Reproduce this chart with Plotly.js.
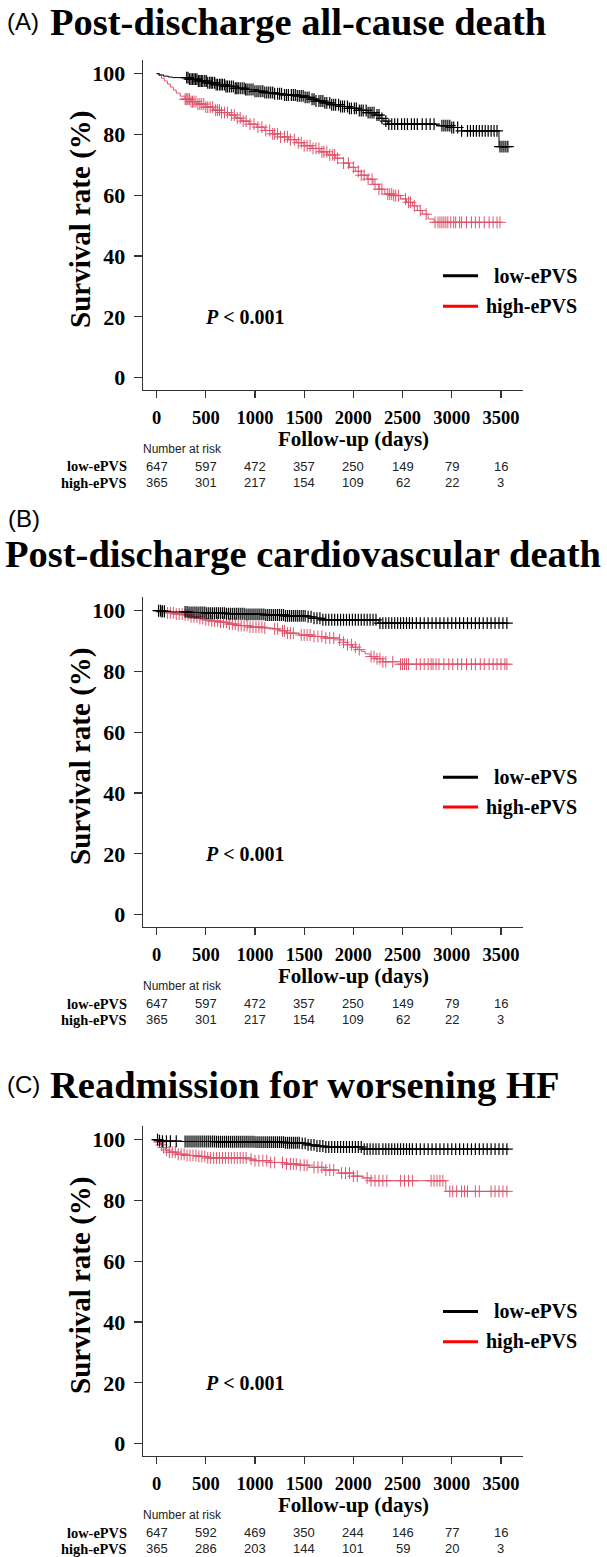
<!DOCTYPE html>
<html>
<head>
<meta charset="utf-8">
<script src="https://cdn.plot.ly/plotly-3.0.1.min.js"></script>
<style>html,body{margin:0;padding:0;background:#fff;}#chart{width:607px;height:1557px;}</style>
</head>
<body>
<div id="chart"></div>
<script>
// ---------------- DATA ----------------
const panelLetters = ["(A)", "(B)", "(C)"];
const panelTitles = ["Post-discharge all-cause death", "Post-discharge cardiovascular death", "Readmission for worsening HF"];
const groupNames = ["low-ePVS", "high-ePVS"];
const xTicks = [0, 500, 1000, 1500, 2000, 2500, 3000, 3500];
const yTicks = [0, 20, 40, 60, 80, 100];
const riskTimes = [0, 500, 1000, 1500, 2000, 2500, 3000, 3500];
const pText = "P < 0.001";

// Panel A
const lowA_t = [0, 30, 70, 120, 160, 330, 420, 510, 600, 700, 800, 900, 1000, 1100, 1200, 1300, 1420, 1500, 1560, 1620, 1700, 1780, 1860, 1950, 2050, 2150, 2220, 2270, 2310, 2350, 2850, 3000, 3100, 3480, 3570];
const lowA_s = [100, 99.6, 99.2, 98.9, 98.7, 98.2, 97.6, 97.0, 96.4, 95.8, 95.2, 94.8, 94.2, 93.8, 93.4, 93.0, 92.7, 92.2, 91.6, 91.0, 90.4, 89.8, 89.2, 88.6, 87.9, 87.2, 86.4, 85.3, 84.4, 83.4, 82.9, 82.3, 81.2, 76.0, 76.0];
const lowA_cens = [306,320,335,350,365,380,395,410,425,440,455,470,490,505,520,540,555,570,590,605,620,640,655,670,690,705,720,740,760,780,800,815,830,850,870,890,905,920,940,960,980,1000,1020,1040,1060,1080,1100,1120,1140,1160,1180,1200,1230,1250,1270,1300,1320,1340,1370,1390,1410,1430,1450,1470,1490,1510,1530,1550,1580,1600,1620,1650,1670,1690,1710,1730,1760,1780,1800,1820,1850,1870,1890,1910,1940,1960,1980,2010,2030,2060,2080,2100,2130,2150,2170,2190,2210,2240,2260,2290,2330,2360,2390,2420,2450,2490,2520,2550,2590,2620,2650,2700,2740,2780,2820,2900,2920,2940,2960,2980,3000,3020,3060,3100,3160,3190,3220,3250,3280,3310,3340,3370,3400,3430,3460,3490,3510,3530,3550,3570];
const highA_t = [0, 20, 50, 80, 110, 140, 170, 200, 240, 290, 350, 420, 500, 580, 660, 740, 800, 860, 940, 1020, 1100, 1180, 1260, 1340, 1420, 1500, 1580, 1660, 1740, 1820, 1900, 1960, 2020, 2080, 2140, 2200, 2260, 2320, 2400, 2480, 2540, 2600, 2650, 2700, 2760, 2820, 3500];
const highA_s = [100, 99.4, 98.5, 97.6, 96.6, 95.6, 94.6, 93.6, 92.6, 91.6, 90.8, 90.0, 89.0, 88.0, 87.2, 86.4, 85.4, 84.4, 83.4, 82.4, 81.3, 80.2, 79.2, 78.3, 77.3, 76.3, 75.4, 74.3, 73.3, 72.2, 70.6, 69.2, 67.9, 66.6, 65.3, 63.6, 62.0, 60.4, 59.9, 58.8, 57.7, 56.5, 55.0, 53.8, 52.2, 51.1, 51.1];
const highA_cens = [290,300,310,320,335,350,365,380,400,420,440,460,480,500,520,545,570,600,620,640,660,690,720,760,790,820,850,880,910,950,990,1030,1070,1110,1150,1180,1200,1230,1260,1300,1330,1360,1400,1440,1470,1500,1530,1560,1590,1620,1650,1680,1700,1730,1760,1790,1810,1840,1900,1950,2000,2050,2080,2110,2150,2190,2220,2260,2290,2350,2370,2390,2410,2430,2460,2530,2560,2580,2620,2680,2740,2830,2860,2880,2900,2920,2940,2960,2990,3020,3040,3080,3100,3150,3200,3240,3280,3330,3380,3420,3460,3490];
const riskLowA = [647, 597, 472, 357, 250, 149, 79, 16];
const riskHighA = [365, 301, 217, 154, 109, 62, 22, 3];

// Panel B
const lowB_t = [0, 60, 150, 330, 500, 700, 900, 1100, 1300, 1520, 1600, 1690, 2240, 2260, 3560];
const lowB_s = [100, 99.8, 99.6, 99.4, 99.2, 99.0, 98.8, 98.6, 98.3, 98.0, 97.5, 97.0, 97.0, 95.9, 95.9];
const lowB_cens = [20,40,60,80,290,310,330,350,370,390,410,430,450,470,490,510,530,550,570,590,610,630,650,670,690,710,730,750,770,790,810,830,850,870,890,910,930,950,970,990,1010,1030,1050,1070,1090,1110,1130,1150,1170,1190,1210,1230,1250,1270,1290,1310,1330,1350,1370,1390,1410,1430,1450,1470,1490,1510,1540,1570,1600,1630,1660,1690,1720,1750,1780,1810,1840,1870,1900,1930,1960,1990,2020,2050,2080,2110,2140,2170,2200,2230,2270,2300,2330,2360,2390,2420,2450,2480,2510,2540,2570,2600,2640,2680,2720,2760,2800,2840,2880,2920,2960,3000,3040,3080,3120,3160,3200,3240,3280,3320,3360,3400,3440,3480,3520,3560];
const highB_t = [0, 40, 100, 180, 270, 350, 420, 480, 560, 640, 720, 810, 950, 1100, 1190, 1250, 1320, 1450, 1590, 1700, 1860, 1900, 1940, 1990, 2040, 2080, 2120, 2170, 2220, 2300, 2480, 3560];
const highB_s = [100, 99.6, 99.3, 98.9, 98.6, 98.0, 97.4, 97.0, 96.6, 96.2, 95.6, 95.1, 94.6, 94.3, 94.0, 93.4, 92.6, 92.0, 91.5, 91.0, 90.4, 89.6, 88.8, 88.0, 87.2, 86.6, 85.8, 84.9, 84.2, 83.2, 82.4, 82.4];
const highB_cens = [20,50,80,110,140,170,200,230,260,290,320,350,380,410,440,470,500,530,560,590,620,650,680,710,740,770,800,830,860,890,920,950,980,1010,1040,1070,1100,1200,1230,1280,1300,1330,1360,1390,1470,1500,1530,1560,1600,1640,1680,1720,1760,1800,1860,1900,1940,1980,2020,2060,2180,2210,2240,2270,2300,2330,2400,2480,2500,2520,2540,2560,2640,2680,2720,2760,2790,2810,2840,2870,2920,2970,3010,3060,3100,3150,3200,3240,3290,3330,3380,3420,3460,3500,3540,3560];
const riskLowB = [647, 597, 472, 357, 250, 149, 79, 16];
const riskHighB = [365, 301, 217, 154, 109, 62, 22, 3];

// Panel C
const lowC_t = [0, 20, 60, 250, 600, 1000, 1300, 1460, 1540, 1620, 1700, 2090, 3560];
const lowC_s = [100, 99.7, 99.5, 99.4, 99.3, 99.2, 99.0, 98.8, 98.3, 97.9, 97.6, 96.9, 96.9];
const lowC_cens = [10,30,60,100,140,200,290,310,330,350,370,390,410,430,450,470,490,510,530,550,570,590,610,630,650,670,690,710,730,750,770,790,810,830,850,870,890,910,930,950,970,990,1010,1030,1050,1070,1090,1110,1130,1150,1170,1190,1210,1230,1250,1270,1290,1310,1330,1350,1370,1390,1410,1430,1450,1480,1510,1540,1570,1600,1630,1660,1690,1720,1750,1780,1810,1840,1870,1900,1930,1960,1990,2020,2050,2080,2110,2140,2170,2200,2230,2260,2300,2330,2360,2390,2420,2450,2480,2510,2540,2570,2600,2640,2680,2720,2760,2800,2840,2880,2920,2960,3000,3040,3080,3120,3160,3200,3240,3280,3320,3360,3400,3440,3480,3520,3560];
const highC_t = [0, 20, 40, 60, 90, 130, 200, 300, 420, 520, 950, 1000, 1150, 1300, 1450, 1550, 1700, 1850, 2000, 2100, 2170, 2940, 3560];
const highC_s = [100, 99.2, 98.3, 97.4, 96.6, 95.9, 95.2, 94.8, 94.5, 94.0, 93.6, 93.1, 92.5, 92.0, 91.6, 90.9, 90.0, 89.0, 88.0, 87.4, 86.5, 83.0, 83.0];
const highC_cens = [10,30,50,70,100,130,160,190,220,250,280,310,340,370,400,430,460,490,520,550,580,610,640,670,700,730,760,790,820,850,880,910,960,1000,1040,1080,1120,1160,1200,1280,1320,1360,1390,1420,1460,1500,1530,1600,1640,1680,1720,1760,1800,1880,1920,1960,2000,2040,2140,2180,2220,2260,2300,2340,2480,2520,2560,2600,2790,2820,2850,2880,2910,2980,3010,3050,3100,3130,3160,3240,3280,3400,3440,3480,3520,3560];
const riskLowC = [647, 592, 469, 350, 244, 146, 77, 16];
const riskHighC = [365, 286, 203, 144, 101, 59, 20, 3];

// Legend rows and p-value level, in survival-axis units, per panel
const legendLevels = [[33.5, 23.5], [45.2, 35.4], [43.5, 33.5]];
const pLevel = 20;

// ---------------- BUILD ----------------
const W = 607, H = 1557;
const px = x => x / W;
const py = y => 1 - y / H;
const SERIF = "Liberation Serif, Times New Roman, serif";
const SANS = "Liberation Sans, Arial, sans-serif";
const BLACK = "#000000";
const RED = "#DF536B";
const LEG_RED = "#FF0000";

const panels = [
  {low: [lowA_t, lowA_s, lowA_cens], high: [highA_t, highA_s, highA_cens], rl: riskLowA, rh: riskHighA},
  {low: [lowB_t, lowB_s, lowB_cens], high: [highB_t, highB_s, highB_cens], rl: riskLowB, rh: riskHighB},
  {low: [lowC_t, lowC_s, lowC_cens], high: [highC_t, highC_s, highC_cens], rl: riskLowC, rh: riskHighC}
];
const offs = [0, 537, 1066];

function stepAt(ts, ss, t) {
  let v = ss[0];
  for (let i = 0; i < ts.length; i++) { if (ts[i] <= t) v = ss[i]; else break; }
  return v;
}

const traces = [];
const annotations = [];
const shapes = [];
const layout = {
  width: W, height: H,
  margin: {l: 0, r: 0, t: 0, b: 0},
  paper_bgcolor: "#fff", plot_bgcolor: "#fff",
  showlegend: false,
  annotations: annotations, shapes: shapes
};

panels.forEach((p, i) => {
  const dy = offs[i];
  const sfx = i === 0 ? "" : String(i + 1);
  layout["xaxis" + sfx] = {
    domain: [px(143), px(522.6)], range: [-138, 3720], anchor: "y" + sfx,
    showline: true, linecolor: "#333", linewidth: 1.3, mirror: false,
    ticks: "outside", ticklen: 7, tickwidth: 1.2, tickcolor: "#333",
    tickvals: xTicks, ticktext: xTicks.map(String), ticklabelstandoff: 3,
    tickfont: {family: SERIF, size: 18.5, color: "#000", weight: "bold"},
    showgrid: false, zeroline: false, fixedrange: true
  };
  layout["yaxis" + sfx] = {
    domain: [py(390 + dy), py(60 + dy)], range: [-4.05, 104.5], anchor: "x" + sfx,
    showline: true, linecolor: "#333", linewidth: 1.3,
    ticks: "outside", ticklen: 8, tickwidth: 1.2, tickcolor: "#333",
    tickvals: yTicks, ticktext: yTicks.map(String), ticklabelstandoff: 4,
    tickfont: {family: SERIF, size: 22, color: "#000", weight: "bold"},
    showgrid: false, zeroline: false, fixedrange: true
  };
  [[p.high, RED, 1], [p.low, BLACK, 1.2]].forEach(([ser, col, mw]) => {
    const [ts, ss, cens] = ser;
    traces.push({x: ts, y: ss, xaxis: "x" + sfx, yaxis: "y" + sfx, type: "scatter", mode: "lines",
      line: {shape: "hv", width: 1, color: col}, hoverinfo: "skip"});
    traces.push({x: cens, y: cens.map(t => stepAt(ts, ss, t)), xaxis: "x" + sfx, yaxis: "y" + sfx,
      type: "scatter", mode: "markers",
      marker: {symbol: "cross-thin", size: 8.5, color: col, line: {width: mw, color: col}}, hoverinfo: "skip"});
  });

  // Titles
  if (i === 1) {
    annotations.push({xref: "paper", yref: "paper", x: px(6), y: py(518), xanchor: "left", yanchor: "middle",
      text: panelLetters[i], showarrow: false, font: {family: SANS, size: 24, color: "#000"}});
    annotations.push({xref: "paper", yref: "paper", x: px(3), y: py(554), xanchor: "left", yanchor: "middle",
      text: "<b>" + panelTitles[i] + "</b>", showarrow: false, font: {family: SERIF, size: 38.5, color: "#000"}});
  } else {
    const ty = i === 0 ? 22 : 1085;
    annotations.push({xref: "paper", yref: "paper", x: px(5), y: py(ty - 1), xanchor: "left", yanchor: "middle",
      text: panelLetters[i], showarrow: false, font: {family: SANS, size: 24, color: "#000"}});
    annotations.push({xref: "paper", yref: "paper", x: px(48), y: py(ty), xanchor: "left", yanchor: "middle",
      text: "<b>" + panelTitles[i] + "</b>", showarrow: false, font: {family: SERIF, size: 38.5, color: "#000"}});
  }

  // Axis titles
  annotations.push({xref: "paper", yref: "paper", x: px(80), y: py(220 + dy), xanchor: "center", yanchor: "middle",
    textangle: -90, text: "<b>Survival rate (%)</b>", showarrow: false, font: {family: SERIF, size: 29, color: "#000"}});
  annotations.push({xref: "paper", yref: "paper", x: px(353), y: py(439 + dy), xanchor: "center", yanchor: "middle",
    text: "<b>Follow-up (days)</b>", showarrow: false, font: {family: SERIF, size: 21, color: "#000"}});

  // P value
  annotations.push({xref: "paper", yref: "y" + sfx, x: px(203), y: pLevel, xanchor: "left", yanchor: "middle",
    text: "<b><i>P</i> " + pText.slice(2) + "</b>", showarrow: false, font: {family: SERIF, size: 20, color: "#000"}});

  // Legend
  [["#000", groupNames[0], legendLevels[i][0]], [LEG_RED, groupNames[1], legendLevels[i][1]]].forEach(([c, name, lv]) => {
    shapes.push({type: "line", xref: "paper", yref: "y" + sfx, x0: px(443), x1: px(478), y0: lv, y1: lv,
      line: {color: c, width: 3}});
    annotations.push({xref: "paper", yref: "y" + sfx, x: px(579), y: lv, xanchor: "right", yanchor: "middle",
      text: "<b>" + name + "</b>", showarrow: false, font: {family: SERIF, size: 20, color: "#000"}});
  });

  // Number at risk
  annotations.push({xref: "paper", yref: "paper", x: px(142), y: py(448.5 + dy), xanchor: "left", yanchor: "middle",
    text: "Number at risk", showarrow: false, font: {family: SANS, size: 12, color: "#222"}, borderpad: 0});
  [[groupNames[0], p.rl, 466.5], [groupNames[1], p.rh, 482.5]].forEach(([name, vals, ry]) => {
    annotations.push({xref: "paper", yref: "paper", x: px(128), y: py(ry + dy), xanchor: "right", yanchor: "middle",
      text: "<b>" + name + "</b>", showarrow: false, font: {family: SERIF, size: 14.4, color: "#000"}, borderpad: 0});
    vals.forEach((v, k) => {
      annotations.push({xref: "x" + sfx, yref: "paper", x: riskTimes[k], y: py(ry + dy), xanchor: "center", yanchor: "middle",
        text: String(v), showarrow: false, font: {family: SANS, size: 13, color: "#222"}, borderpad: 0});
    });
  });
});

Plotly.newPlot("chart", traces, layout, {staticPlot: true, displayModeBar: false});
</script>
</body>
</html>
